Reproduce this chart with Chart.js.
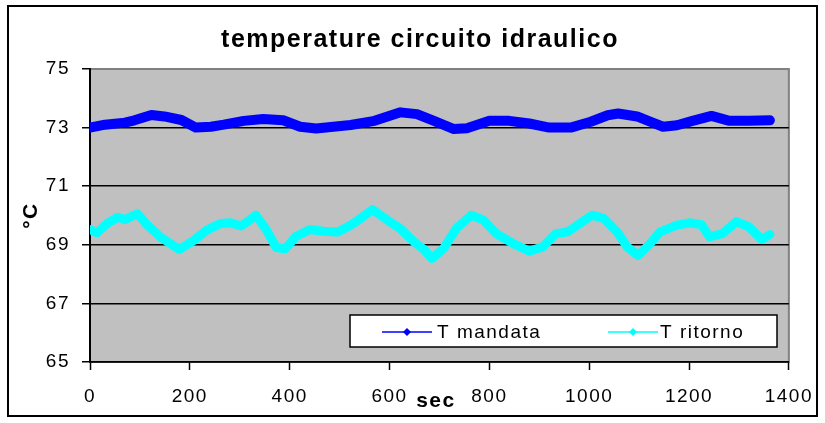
<!DOCTYPE html>
<html>
<head>
<meta charset="utf-8">
<script src="https://cdn.jsdelivr.net/npm/chart.js@4.4.0/dist/chart.umd.min.js"></script>
<style>
  html, body { margin: 0; padding: 0; background: #fff; }
  #wrap { width: 825px; height: 423px; }
</style>
</head>
<body>
<div id="wrap"><canvas id="chart" width="825" height="423"></canvas></div>
<script>
var chartTitle = "temperature circuito idraulico";
var xTitle = "sec";
var yTitle = "°C";
var seriesNames = ["T mandata", "T ritorno"];

// seconds / °C
var tMandata = [0, 30, 70, 89, 123, 149, 183, 212, 242, 268, 308, 347, 387, 421, 453, 522, 570, 622, 655, 689, 729, 755, 800, 840, 880, 920, 963, 1003, 1037, 1058, 1096, 1122, 1148, 1176, 1207, 1245, 1281, 1320, 1362];
var vMandata = [73.0, 73.1, 73.17, 73.25, 73.43, 73.38, 73.26, 73.0, 73.03, 73.1, 73.23, 73.29, 73.25, 73.03, 72.97, 73.09, 73.23, 73.52, 73.46, 73.23, 72.95, 72.98, 73.23, 73.23, 73.14, 73.0, 73.0, 73.2, 73.42, 73.48, 73.38, 73.2, 73.03, 73.08, 73.23, 73.4, 73.23, 73.23, 73.25];

var tRitorno = [0, 14, 36, 56, 70, 95, 115, 143, 179, 208, 234, 262, 282, 302, 314, 332, 353, 373, 391, 413, 441, 467, 496, 522, 542, 566, 596, 622, 649, 669, 685, 709, 735, 764, 788, 814, 848, 880, 907, 933, 957, 983, 1006, 1029, 1056, 1076, 1098, 1122, 1142, 1176, 1201, 1225, 1241, 1267, 1295, 1320, 1346, 1362];
var vRitorno = [69.52, 69.41, 69.75, 69.94, 69.86, 70.06, 69.67, 69.24, 68.84, 69.15, 69.5, 69.73, 69.75, 69.64, 69.77, 70.01, 69.52, 68.91, 68.86, 69.29, 69.52, 69.46, 69.44, 69.67, 69.9, 70.2, 69.84, 69.55, 69.1, 68.84, 68.53, 68.89, 69.58, 70.01, 69.84, 69.38, 69.04, 68.78, 68.93, 69.38, 69.44, 69.75, 70.01, 69.9, 69.44, 68.93, 68.64, 69.04, 69.44, 69.67, 69.75, 69.69, 69.27, 69.38, 69.79, 69.61, 69.18, 69.35];

var xMin = 0, xMax = 1400, xStep = 200;
var yMin = 65, yMax = 75, yStep = 2;

var FONT = "'Liberation Sans', Arial, sans-serif";
var colors = ['#0000FF', '#00FFFF'];

function pairs(xs, ys) {
    var out = [];
    for (var i = 0; i < xs.length; i++) out.push({x: xs[i], y: ys[i]});
    return out;
}

// the original picture is stretched sideways, so text gets a little letter spacing
var frame = {
    id: 'frame',
    beforeDraw: function(chart) {
        var ctx = chart.ctx, a = chart.chartArea;
        ctx.save();
        ctx.fillStyle = '#fff';
        ctx.fillRect(0, 0, chart.width, chart.height);
        ctx.fillStyle = '#C0C0C0';
        ctx.fillRect(a.left, a.top, a.right - a.left, a.bottom - a.top);
        ctx.strokeStyle = '#808080';
        ctx.lineWidth = 2;
        ctx.strokeRect(a.left, a.top, a.right - a.left, a.bottom - a.top);
        ctx.strokeStyle = '#000';
        ctx.lineWidth = 2;
        ctx.strokeRect(8, 6, 809, 410);
        ctx.restore();
        ctx.letterSpacing = '1.5px';
    },
    afterDraw: function(chart) {
        var ctx = chart.ctx;
        var xs = chart.scales.x;
        ctx.save();
        ctx.fillStyle = '#000';
        ctx.font = 'bold 21px ' + FONT;
        ctx.textAlign = 'center';
        ctx.textBaseline = 'middle';
        ctx.fillText(xTitle, xs.getPixelForValue(693), 401);

        // legend box inside the plot
        ctx.fillStyle = '#fff';
        ctx.fillRect(350, 315, 427, 32);
        ctx.strokeStyle = '#000';
        ctx.lineWidth = 1.5;
        ctx.strokeRect(350, 315, 427, 32);
        var items = [{x: 382, tx: 437}, {x: 608, tx: 660}];
        ctx.font = '19px ' + FONT;
        ctx.textAlign = 'left';
        for (var i = 0; i < items.length; i++) {
            var it = items[i], cy = 332;
            ctx.strokeStyle = colors[i];
            ctx.lineWidth = 1.5;
            ctx.beginPath();
            ctx.moveTo(it.x, cy);
            ctx.lineTo(it.x + 50, cy);
            ctx.stroke();
            ctx.fillStyle = colors[i];
            ctx.beginPath();
            ctx.moveTo(it.x + 25, cy - 4);
            ctx.lineTo(it.x + 29, cy);
            ctx.lineTo(it.x + 25, cy + 4);
            ctx.lineTo(it.x + 21, cy);
            ctx.closePath();
            ctx.fill();
            ctx.fillStyle = '#000';
            ctx.fillText(chart.data.datasets[i].label, it.tx, cy + 1);
        }
        ctx.restore();
        ctx.letterSpacing = '0px';
    }
};

var ctx = document.getElementById('chart');
var chart = new Chart(ctx, {
    type: 'line',
    plugins: [frame],
    data: {
        datasets: [
            {
                label: seriesNames[0],
                data: pairs(tMandata, vMandata),
                borderColor: colors[0],
                backgroundColor: colors[0],
                borderWidth: 10,
                borderJoinStyle: 'round',
                borderCapStyle: 'round',
                pointRadius: 0,
                tension: 0
            },
            {
                label: seriesNames[1],
                data: pairs(tRitorno, vRitorno),
                borderColor: colors[1],
                backgroundColor: colors[1],
                borderWidth: 9,
                borderJoinStyle: 'round',
                borderCapStyle: 'round',
                pointRadius: 0,
                tension: 0
            }
        ]
    },
    options: {
        responsive: false,
        animation: false,
        layout: { padding: { top: 0, right: 30, bottom: 0, left: 45 } },
        plugins: {
            legend: { display: false },
            tooltip: { enabled: false },
            title: {
                display: true,
                text: chartTitle,
                color: '#000',
                font: { family: FONT, size: 25, weight: 'bold' },
                padding: { top: 25, bottom: 14 }
            }
        },
        scales: {
            x: {
                type: 'linear',
                min: xMin,
                max: xMax,
                afterFit: function(s) { s.height = 61; },
                border: { display: true, color: '#000', width: 1.5 },
                grid: { drawOnChartArea: false, drawTicks: true, tickLength: 8, tickColor: '#000', tickWidth: 1.5 },
                ticks: { stepSize: xStep, color: '#000', padding: 15, maxRotation: 0,
                         font: { family: FONT, size: 19 },
                         callback: function(v) { return String(v); } }
            },
            y: {
                min: yMin,
                max: yMax,
                afterFit: function(s) { s.width = 45; },
                border: { display: true, color: '#000', width: 2 },
                grid: {
                    drawTicks: true,
                    tickLength: 8,
                    tickColor: '#000',
                    tickWidth: 1.5,
                    lineWidth: 1.5,
                    color: function(c) {
                        if (c.tick && c.tick.value === yMax) return '#808080';
                        return '#000';
                    }
                },
                ticks: { stepSize: yStep, color: '#000', padding: 12,
                         font: { family: FONT, size: 19 },
                         callback: function(v) { return String(v); } },
                title: {
                    display: true,
                    text: yTitle,
                    color: '#000',
                    font: { family: FONT, size: 21, weight: 'bold' },
                    padding: { top: -26, bottom: 0 }
                }
            }
        }
    }
});
</script>
</body>
</html>
